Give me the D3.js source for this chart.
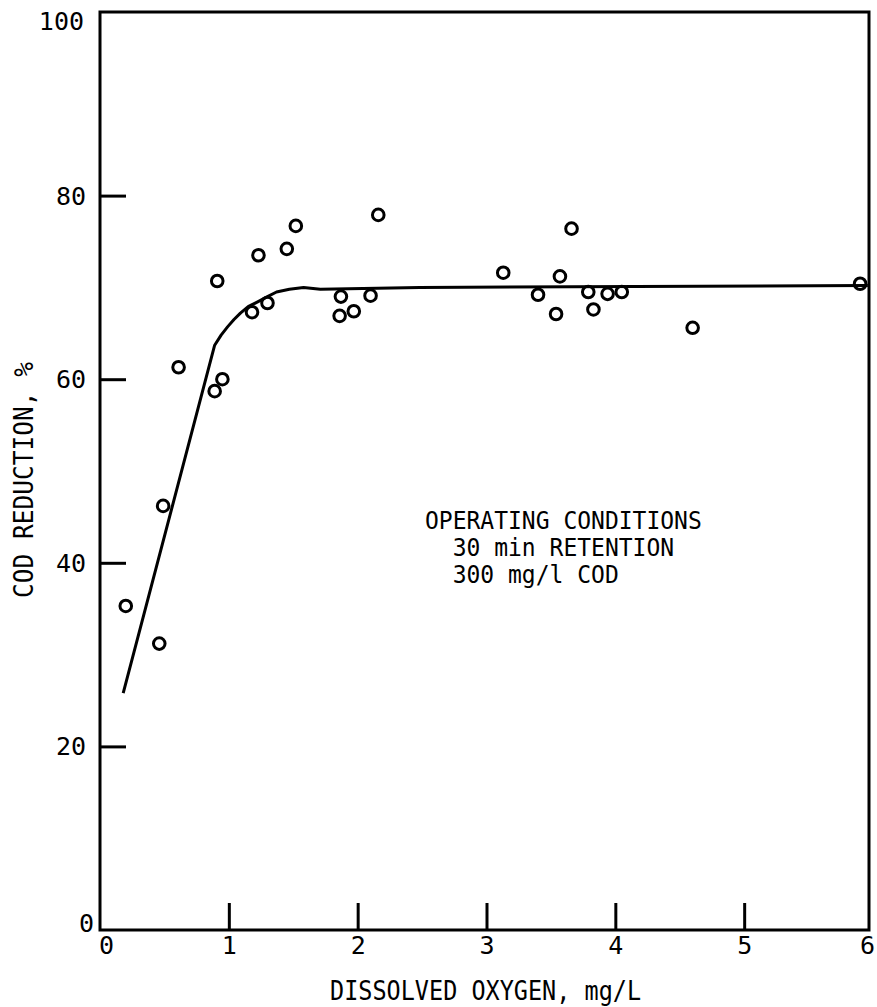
<!DOCTYPE html>
<html>
<head>
<meta charset="utf-8">
<script src="https://cdn.jsdelivr.net/npm/d3@7"></script>
<style>
  body { margin: 0; background: #fff; }
  text { font-family: "DejaVu Sans Mono", monospace; fill: #000; }
</style>
</head>
<body>
<div id="chart"></div>
<script>
// dissolved oxygen (mg/L) vs COD reduction (%)
var xTicks = [0, 1, 2, 3, 4, 5, 6];
var yTicks = [0, 20, 40, 60, 80, 100];

// measured points
var doValues  = [0.20, 0.46, 0.49, 0.61, 0.89, 0.91, 0.95, 1.18, 1.23, 1.30, 1.45, 1.52, 1.86, 1.87,
                 1.97, 2.10, 2.16, 3.13, 3.40, 3.54, 3.57, 3.66, 3.79, 3.83, 3.94, 4.05, 4.60, 5.90];
var codValues = [35.3, 31.2, 46.2, 61.3, 58.7, 70.7, 60.0, 67.3, 73.5, 68.3, 74.2, 76.7, 66.9, 69.0,
                 67.4, 69.1, 77.9, 71.6, 69.2, 67.1, 71.2, 76.4, 69.5, 67.6, 69.3, 69.5, 65.6, 70.4];

// fitted curve (straight rise, then a bend into the plateau)
var curveDO  = [0.18, 0.89, 0.94, 0.99, 1.04, 1.09, 1.15, 1.22, 1.30, 1.37, 1.47, 1.58, 1.71, 2.48, 5.96];
var curveCOD = [25.8, 63.7, 64.8, 65.7, 66.5, 67.2, 67.9, 68.4, 69.0, 69.5, 69.8, 70.0, 69.8, 70.0, 70.2];

var notes = ["OPERATING CONDITIONS", "  30 min RETENTION", "  300 mg/l COD"];

var width = 877, height = 1007;

var svg = d3.select("#chart")
  .append("svg")
  .attr("width", width)
  .attr("height", height);

var x = d3.scaleLinear().domain([0, 6]).range([100, 873]);
var y = d3.scaleLinear().domain([0, 100]).range([930, 12]);

//frame
svg.append("path")
  .attr("d", "M" + x(0) + "," + y(100) + "H869V" + y(0) + "H" + x(0) + "Z")
  .attr("fill", "none")
  .attr("stroke", "#000")
  .attr("stroke-width", 3);

// x axis, ticks point up into the plot
var xAxis = svg.append("g")
  .attr("transform", "translate(0," + y(0) + ")")
  .call(d3.axisBottom(x).tickValues(xTicks).tickFormat(d3.format("d")).tickSize(-27).tickPadding(6));
xAxis.select(".domain").remove();
xAxis.selectAll(".tick line")
  .attr("stroke-width", 3)
  .attr("display", function(d){ return (d === 0 || d === 6) ? "none" : null; });
xAxis.selectAll(".tick text")
  .attr("font-size", 25)
  .attr("font-family", "DejaVu Sans Condensed")
  .attr("dx", function(d){ return d === 6 ? -6 : (d === 0 ? 6 : 0); });

// y axis, ticks point right
var yAxis = svg.append("g")
  .attr("transform", "translate(" + x(0) + ",0)")
  .call(d3.axisLeft(y).tickValues(yTicks).tickFormat(d3.format("d")).tickSize(-26).tickPadding(14));
yAxis.select(".domain").remove();
yAxis.selectAll(".tick line")
  .attr("stroke-width", 3)
  .attr("display", function(d){ return (d === 0 || d === 100) ? "none" : null; });
yAxis.selectAll(".tick text")
  .attr("font-size", 25)
  .attr("font-family", "DejaVu Sans Condensed")
  .attr("dx", function(d){ return d === 0 ? 8 : (d === 100 ? -2 : 0); })
  .attr("dy", function(d){ return d === 100 ? "0.68em" : (d === 0 ? "0.05em" : "0.34em"); });

// axis titles
svg.append("text")
  .attr("transform", "translate(330,1000) scale(1,1.12)")
  .attr("font-size", 23.5)
  .text("DISSOLVED OXYGEN, mg/L");

svg.append("text")
  .attr("transform", "translate(33,480) rotate(-90) scale(1,1.12)")
  .attr("text-anchor", "middle")
  .attr("font-size", 24.5)
  .text("COD REDUCTION, %");

// curve
var curvePts = curveDO.map(function(d, i){ return [d, curveCOD[i]]; });
var line = d3.line()
  .x(function(d){ return x(d[0]); })
  .y(function(d){ return y(d[1]); })
  .curve(d3.curveLinear);

svg.append("path")
  .datum(curvePts)
  .attr("d", line)
  .attr("fill", "none")
  .attr("stroke", "#000")
  .attr("stroke-width", 3)
  .attr("stroke-linejoin", "round");

// points
var pts = doValues.map(function(d, i){ return {x: d, y: codValues[i]}; });
svg.selectAll(".pt")
  .data(pts)
  .enter().append("circle")
  .attr("class", "pt")
  .attr("cx", function(d){ return x(d.x); })
  .attr("cy", function(d){ return y(d.y); })
  .attr("r", 5.8)
  .attr("fill", "none")
  .attr("stroke", "#000")
  .attr("stroke-width", 3);

// note block
svg.append("g")
  .selectAll("text")
  .data(notes)
  .enter().append("text")
  .attr("transform", function(d, i){ return "translate(425," + (529 + i * 27) + ") scale(1,1.08)"; })
  .attr("font-size", 23)
  .attr("xml:space", "preserve")
  .style("white-space", "pre")
  .text(function(d){ return d; });
</script>
</body>
</html>
